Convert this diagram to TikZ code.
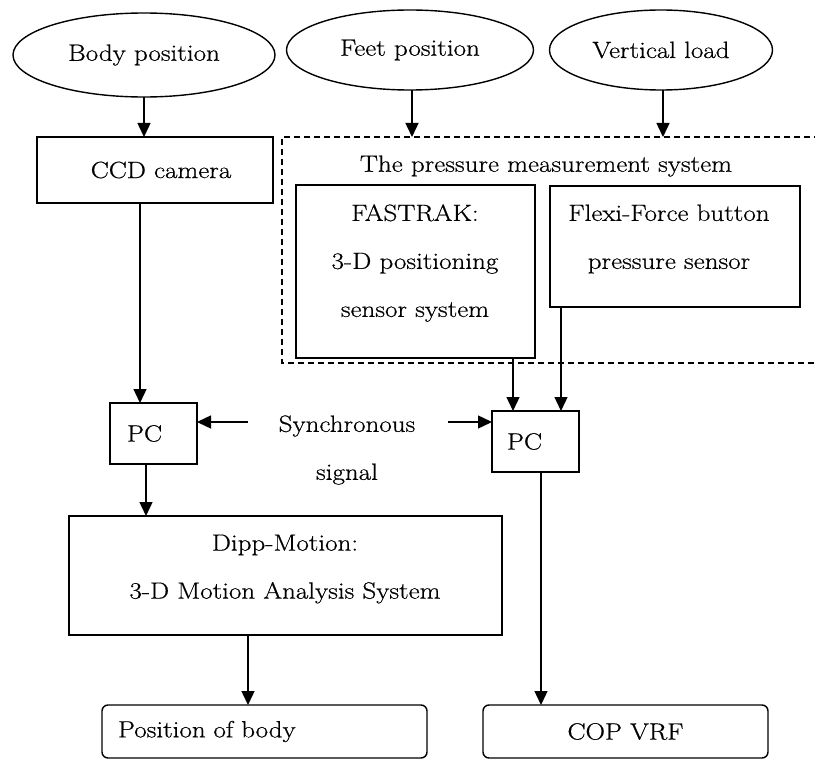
\documentclass[tikz,border=0pt]{standalone}
\usepackage{fontspec}
\setmainfont{Latin Modern Roman}[FakeStretch=1.15,FakeBold=0.6]
\usetikzlibrary{shapes.geometric,arrows.meta,calc}
\begin{document}
\begin{tikzpicture}[x=1pt,y=-1pt,
  every node/.style={font=\fontsize{23.5}{48}\selectfont, inner sep=0pt, outer sep=0pt},
  oval/.style={draw, ellipse, line width=1.4pt},
  box/.style={draw, rectangle, line width=1.4pt, anchor=north west},
  rbox/.style={box, rounded corners=6pt},
  arr/.style={line width=1.4pt, -{Triangle[length=14pt,width=13pt]}},
  dashbox/.style={draw, dashed, line width=1.4pt, dash pattern=on 6pt off 4pt}
]
\useasboundingbox (0,0) rectangle (815,760);

% ellipses
\node[oval, minimum width=262pt, minimum height=84pt] (body) at (144,55) {Body position};
\node[oval, minimum width=247pt, minimum height=80pt] (feet) at (410,50) {Feet position};
\node[oval, minimum width=223pt, minimum height=80pt] (load) at (661,50) {Vertical load};

% CCD camera
\node[box, minimum width=236pt, minimum height=66pt] (ccd) at (37,137) {\hspace{12pt}CCD camera};

% pressure measurement system (dashed, open to the right)
\draw[dashbox] (830,137) -- (282,137) -- (282,363) -- (830,363);
\node[anchor=north west, minimum width=548pt, minimum height=226pt] (pms) at (282,137) {};
\node (pmstitle) at (546,166) {The pressure measurement system};

\node[box, minimum width=239pt, minimum height=173pt] (fast) at (296,185) {};
\node[align=center] (fasttext) at (415,263) {FASTRAK:\\3-D positioning\\sensor system};
\node[box, minimum width=250pt, minimum height=121pt] (flexi) at (550,186) {};
\node[align=center] (flexitext) at (669,239) {Flexi-Force button\\pressure sensor};

% PCs
\node[box, minimum width=87pt, minimum height=61pt, text width=53pt, inner xsep=17pt, align=left] (pcl) at (110,403) {PC};
\node[box, minimum width=87pt, minimum height=61pt, text width=57pt, inner xsep=15pt, align=left] (pcr) at (492,411) {PC};

\node[align=center] (sync) at (347,450) {Synchronous\\signal};
\coordinate (sl) at (248,422);
\coordinate (sr) at (448,422);

% Dipp-Motion
\node[box, minimum width=433pt, minimum height=119pt] (dipp) at (69,516) {};
\node[align=center] (dipptext) at (285,569) {Dipp-Motion:\\3-D Motion Analysis System};

% outputs
\node[rbox, minimum width=325pt, minimum height=53pt, text width=293pt, inner xsep=16pt, align=left] (pos) at (102,705) {Position of body};
\node[rbox, minimum width=285pt, minimum height=53pt] (cop) at (483,705) {COP VRF};

% connectors
\draw[arr] (body.south) -- (body.south |- ccd.north);
\draw[arr] ([xshift=2pt]feet.south) -- ([xshift=2pt]feet.south |- pms.north);
\draw[arr] ([xshift=2pt]load.south) -- ([xshift=2pt]load.south |- pms.north);
\draw[arr] ([xshift=103pt]ccd.south west) -- ([xshift=103pt]ccd.south west |- pcl.north);
\draw[arr] (sl) -- (sl -| pcl.east);
\draw[arr] (sr) -- (sr -| pcr.west);
\draw[arr] ([xshift=36pt]pcl.south west) -- ([xshift=36pt]pcl.south west |- dipp.north);
\draw[arr] ([xshift=179pt]dipp.south west) -- ([xshift=179pt]dipp.south west |- pos.north);
\draw[arr] ([xshift=217pt]fast.south west) -- ([xshift=217pt]fast.south west |- pcr.north);
\draw[arr] ([xshift=11pt]flexi.south west) -- ([xshift=11pt]flexi.south west |- pcr.north);
\draw[arr] ([xshift=49pt]pcr.south west) -- ([xshift=49pt]pcr.south west |- cop.north);
\end{tikzpicture}
\end{document}
